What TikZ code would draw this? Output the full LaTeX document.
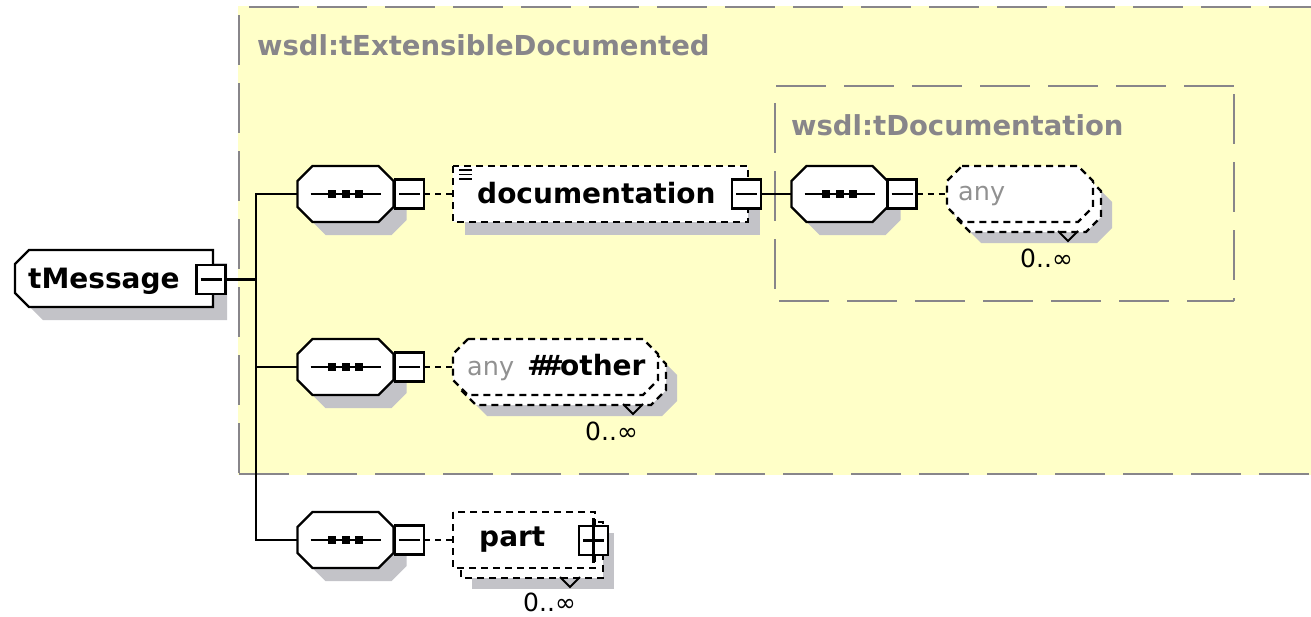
\documentclass[tikz,border=0pt]{standalone}
\usepackage{fontspec}
\setmainfont{DejaVu Sans}
\usetikzlibrary{calc}

\definecolor{panel}{RGB}{255,255,200}
\definecolor{groupgray}{RGB}{136,134,138}
\definecolor{shadowgray}{RGB}{195,195,200}
\definecolor{hintgray}{RGB}{145,145,145}

% outline with all four corners cut: node, cut size, x offset, y offset
\newcommand\chamferpath[4]{%
  ($(#1.north west)+(#2+#3,#4)$) -- ($(#1.north east)+(#3-#2,#4)$) --
  ($(#1.north east)+(#3,#4+#2)$) -- ($(#1.south east)+(#3,#4-#2)$) --
  ($(#1.south east)+(#3-#2,#4)$) -- ($(#1.south west)+(#3+#2,#4)$) --
  ($(#1.south west)+(#3,#4-#2)$) -- ($(#1.north west)+(#3,#4+#2)$) -- cycle}
% outline with only the left corners cut
\newcommand\leftchamfer[4]{%
  ($(#1.north west)+(#2+#3,#4)$) -- ($(#1.north east)+(#3,#4)$) --
  ($(#1.south east)+(#3,#4)$) -- ($(#1.south west)+(#3+#2,#4)$) --
  ($(#1.south west)+(#3,#4-#2)$) -- ($(#1.north west)+(#3,#4+#2)$) -- cycle}
% plain rectangle outline of a node, shifted
\newcommand\boxpath[3]{($(#1.north west)+(#2,#3)$) rectangle ($(#1.south east)+(#2,#3)$)}
% sequence compositor glyph
\newcommand\seqglyph[1]{%
  \draw[line width=2.4pt] ($(#1.center)+(-35,0)$) -- ($(#1.center)+(35,0)$);
  \fill ($(#1.center)+(-17.5,-4)$) rectangle +(8,8);
  \fill ($(#1.center)+(-4,-4)$) rectangle +(8,8);
  \fill ($(#1.center)+(9.5,-4)$) rectangle +(8,8);}
% minus sign inside a collapse box
\newcommand\minusmark[1]{%
  \draw[line width=2.4pt] ($(#1.west)+(4,0)$) -- ($(#1.east)+(-4,0)$);}
% occurrence marker below a repeated particle
\newcommand\repmark[1]{%
  \draw[line width=1.8pt] ($(#1.south east)+(-35,9)$) -- ($(#1.south east)+(-25,19)$) -- ($(#1.south east)+(-15,9)$);}

\tikzset{
  geo/.style 2 args={draw=none, inner sep=0pt, outer sep=0pt, minimum width=#1, minimum height=#2},
  ctl/.style={draw=black, fill=white, line width=2.4pt, inner sep=0pt, outer sep=0pt, minimum size=29pt},
  solidframe/.style={draw=black, fill=white, line width=2.4pt},
  dashframe/.style={draw=black, fill=white, line width=2.4pt, dash pattern=on 7pt off 5pt},
  wire/.style={draw=black, line width=2.4pt},
  dashwire/.style={draw=black, line width=2.4pt, dash pattern=on 6pt off 5pt},
  groupline/.style={draw=groupgray, line width=2.2pt, dash pattern=on 50pt off 18pt},
  tagtext/.style={font=\fontsize{28}{30}\selectfont\bfseries, anchor=base west, inner sep=0pt},
  hinttext/.style={font=\fontsize{25.5}{28}\selectfont, text=hintgray, anchor=base west, inner sep=0pt},
  occurs/.style={font=\fontsize{25}{28}\selectfont, anchor=base west, inner sep=0pt},
  grouplabel/.style={font=\fontsize{27.5}{30}\selectfont\bfseries, text=groupgray, anchor=base west, inner sep=0pt},
}

\begin{document}
\begin{tikzpicture}[x=1pt,y=-1pt]
\useasboundingbox (0,0) rectangle (1311,616);
\fill[white] (0,0) rectangle (1311,616);

% inherited type panels
\fill[panel] (238,6) rectangle (1311,475);
\draw[groupline] (249,7) -- (1311,7);
\draw[groupline] (239,15) -- (239,474);
\draw[groupline] (239,474) -- (1311,474);
\draw[groupline] (776,86) -- (1234,86);
\draw[groupline] (775,103) -- (775,301);
\draw[groupline] (1234,94) -- (1234,301);
\draw[groupline] (779,301) -- (1234,301);
\node[grouplabel] (lblOuter) at (257,55) {wsdl:tExtensibleDocumented};
\node[grouplabel] (lblInner) at (791,135) {wsdl:tDocumentation};

% node geometry
\path
  node[geo={198pt}{57pt}] (tm) at (114,278.5) {}
  node[geo={96pt}{56pt}] (seqA) at (345.5,194) {}
  node[geo={96pt}{56pt}] (seqB) at (345.5,367) {}
  node[geo={96pt}{56pt}] (seqC) at (345.5,540) {}
  node[geo={96pt}{56pt}] (seqD) at (839.5,194) {}
  node[geo={295pt}{56pt}] (doc) at (600.5,194) {}
  node[geo={146pt}{56pt}] (anyD) at (1020,194) {}
  node[geo={205pt}{56pt}] (other) at (555.5,367) {}
  node[geo={142pt}{56pt}] (part) at (524,540) {};

% drop shadows
\fill[shadowgray] \leftchamfer{tm}{14}{14}{13};
\fill[shadowgray] \chamferpath{seqA}{15}{13}{13};
\fill[shadowgray] \chamferpath{seqB}{15}{13}{13};
\fill[shadowgray] \chamferpath{seqC}{15}{13}{13};
\fill[shadowgray] \chamferpath{seqD}{15}{13}{13};
\fill[shadowgray] \boxpath{doc}{12}{13};
\fill[shadowgray] \chamferpath{anyD}{15}{19}{21};
\fill[shadowgray] \chamferpath{other}{15}{19}{21};
\fill[shadowgray] \boxpath{part}{19}{21};

% stacked copies of repeated particles
\draw[dashframe] \chamferpath{anyD}{15}{8}{10};
\draw[dashframe] \chamferpath{other}{15}{8}{10};
\draw[dashframe] \boxpath{part}{8}{10};
\repmark{anyD}
\repmark{other}
\repmark{part}

% particle outlines
\draw[solidframe] \leftchamfer{tm}{14}{0}{0};
\draw[solidframe] \chamferpath{seqA}{15}{0}{0};
\draw[solidframe] \chamferpath{seqB}{15}{0}{0};
\draw[solidframe] \chamferpath{seqC}{15}{0}{0};
\draw[solidframe] \chamferpath{seqD}{15}{0}{0};
\draw[dashframe] \boxpath{doc}{0}{0};
\draw[dashframe] \chamferpath{anyD}{15}{0}{0};
\draw[dashframe] \chamferpath{other}{15}{0}{0};
\draw[dashframe] \boxpath{part}{0}{0};

\seqglyph{seqA}
\seqglyph{seqB}
\seqglyph{seqC}
\seqglyph{seqD}

% mixed-content icon of the documentation element
\draw[line width=1.8pt] ($(doc.north west)+(6,4)$) -- +(13,0);
\draw[line width=1.8pt] ($(doc.north west)+(6,8.5)$) -- +(13,0);
\draw[line width=1.8pt] ($(doc.north west)+(6,13)$) -- +(13,0);

% expand / collapse boxes
\node[ctl] (tmB) at (211,279.5) {};
\node[ctl] (sbA) at (409.5,194) {};
\node[ctl] (sbB) at (409.5,367) {};
\node[ctl] (sbC) at (409.5,540) {};
\node[ctl] (docB) at (746.5,194) {};
\node[ctl] (sdB) at (902,194) {};
\minusmark{tmB}
\minusmark{sbA}
\minusmark{sbB}
\minusmark{sbC}
\minusmark{docB}
\minusmark{sdB}
\node[ctl] (partB) at (593.5,540.5) {};
\draw[line width=2.4pt] ($(partB.north)+(0,-8)$) -- ($(partB.south)+(0,8)$);
\minusmark{partB}

% connectors
\coordinate (trunk) at (256,279.5);
\draw[wire] (tmB.east) -- (trunk);
\draw[wire] (seqA.west) -| (trunk);
\draw[wire] (seqB.west) -| (trunk);
\draw[wire] (seqC.west) -| (trunk);
\draw[dashwire] (sbA.east) -- (doc.west);
\draw[wire] (docB.east) -- (seqD.west);
\draw[dashwire] (sdB.east) -- (anyD.west);
\draw[dashwire] (sbB.east) -- (other.west);
\draw[dashwire] (sbC.east) -- (part.west);

% texts
\node[tagtext] (tmT) at (28,288) {tMessage};
\node[tagtext] (docT) at (477,203) {documentation};
\node[hinttext] (anyDT) at (958,200) {any};
\node[hinttext] (anyOT) at (467,375) {any};
\node[tagtext] (otherT) at (527,375) {\#\kern-10pt\#\kern-4pt other};
\node[tagtext] (partT) at (479,546) {part};
\node[occurs] (numD) at (1020,267) {0..∞};
\node[occurs] (numO) at (585,440) {0..∞};
\node[occurs] (numP) at (523,611) {0..∞};
\end{tikzpicture}
\end{document}
